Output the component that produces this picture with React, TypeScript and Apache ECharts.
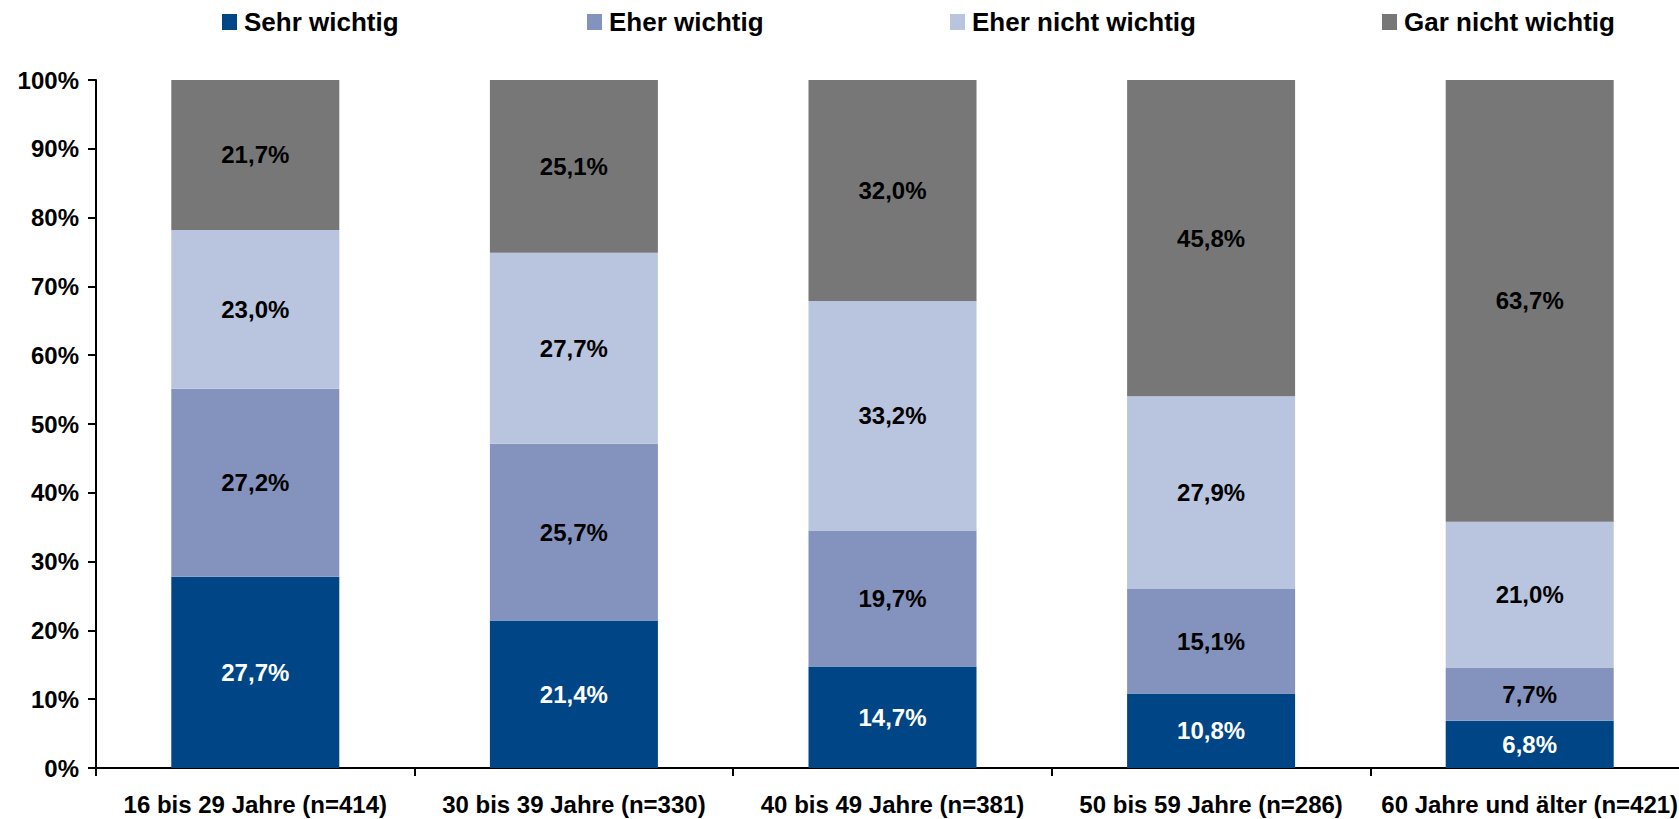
import React, { useEffect, useRef } from "react";
import * as echarts from "echarts";

const categories = [
  "16 bis 29 Jahre (n=414)",
  "30 bis 39 Jahre (n=330)",
  "40 bis 49 Jahre (n=381)",
  "50 bis 59 Jahre (n=286)",
  "60 Jahre und älter (n=421)",
];
const seriesNames = ["Sehr wichtig", "Eher wichtig", "Eher nicht wichtig", "Gar nicht wichtig"];
const sehrWichtig = [27.7, 21.4, 14.7, 10.8, 6.8];
const eherWichtig = [27.2, 25.7, 19.7, 15.1, 7.7];
const eherNichtWichtig = [23.0, 27.7, 33.2, 27.9, 21.0];
const garNichtWichtig = [21.7, 25.1, 32.0, 45.8, 63.7];
const colors = ["#004586", "#8493BE", "#B9C4DE", "#777777"];
const labelColors = ["#ffffff", "#000000", "#000000", "#000000"];
const legendLefts = [222, 587, 950, 1382];

const FONT = "'Liberation Sans', Arial, sans-serif";

export default function App() {
  const ref = useRef<HTMLDivElement>(null);
  useEffect(() => {
    if (!ref.current) return;
    const chart = echarts.init(ref.current, null, { renderer: "svg" });
    const raw = [sehrWichtig, eherWichtig, eherNichtWichtig, garNichtWichtig];
    const totals = categories.map((_, i) => raw.reduce((s, arr) => s + arr[i], 0));
    const series = raw.map((arr, si) => ({
      name: seriesNames[si],
      type: "bar",
      stack: "total",
      barWidth: 168,
      itemStyle: { color: colors[si] },
      label: {
        show: true,
        position: "inside",
        color: labelColors[si],
        fontFamily: FONT,
        fontWeight: "bold",
        fontSize: 24,
        formatter: (p: any) => arr[p.dataIndex].toFixed(1).replace(".", ",") + "%",
      },
      data: arr.map((v, i) => (v / totals[i]) * 100),
    }));
    chart.setOption({
      animation: false,
      textStyle: { fontFamily: FONT },
      legend: seriesNames.map((name, i) => ({
        left: legendLefts[i],
        top: 9,
        padding: 0,
        itemWidth: 15,
        itemHeight: 16,
        icon: "rect",
        textStyle: { fontFamily: FONT, fontWeight: "bold", fontSize: 26, color: "#000", padding: [0, 0, 0, 2] },
        data: [name],
      })),
      grid: { left: 96, right: 0, top: 80, bottom: 51, containLabel: false },
      xAxis: {
        type: "category",
        data: categories,
        axisLine: { lineStyle: { color: "#000", width: 2 } },
        axisTick: { show: true, length: 8, lineStyle: { color: "#000", width: 2 } },
        axisLabel: {
          margin: 24,
          color: "#000",
          fontFamily: FONT,
          fontWeight: "bold",
          fontSize: 24,
          interval: 0,
        },
      },
      yAxis: {
        type: "value",
        min: 0,
        max: 100,
        interval: 10,
        splitLine: { show: false },
        axisLine: { show: true, lineStyle: { color: "#000", width: 2 } },
        axisTick: { show: true, length: 8, lineStyle: { color: "#000", width: 2 } },
        axisLabel: {
          margin: 17,
          color: "#000",
          fontFamily: FONT,
          fontWeight: "bold",
          fontSize: 24,
          formatter: "{value}%",
        },
      },
      series,
    });
    return () => chart.dispose();
  }, []);
  return (
    <div
      style={{
        position: "absolute",
        left: 0,
        top: 0,
        width: 1679,
        height: 819,
        overflow: "hidden",
        background: "#fff",
      }}
    >
      <div ref={ref} style={{ width: 1689, height: 819 }} />
    </div>
  );
}
